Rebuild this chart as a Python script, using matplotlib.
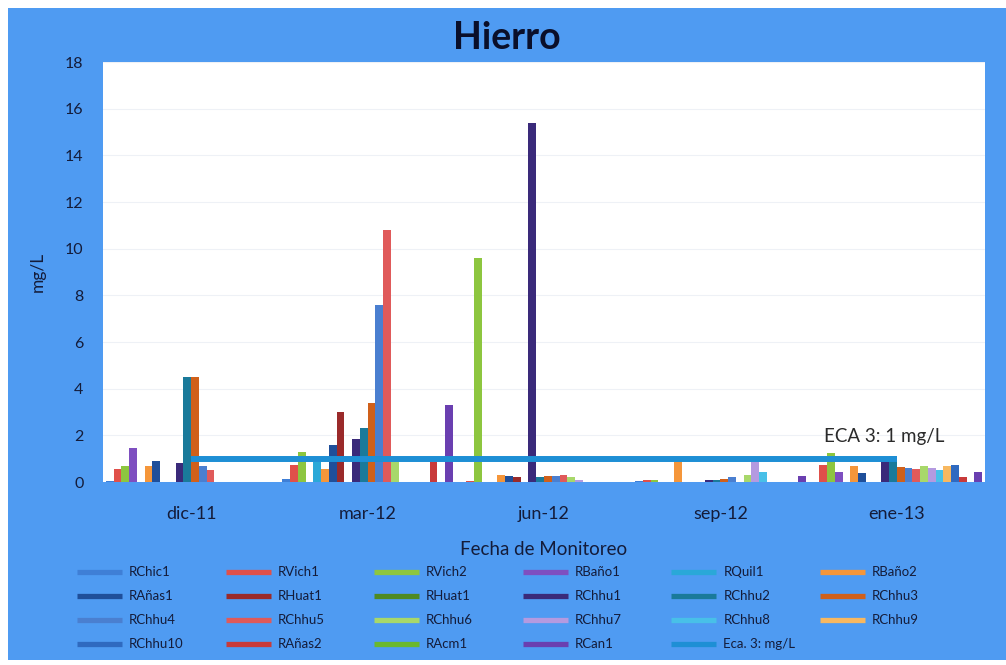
import matplotlib
matplotlib.use('Agg')
import matplotlib.pyplot as plt
from matplotlib.lines import Line2D
from matplotlib.patches import Rectangle
import numpy as np

plt.rcParams['font.family'] = ['Lato', 'DejaVu Sans']

nan = np.nan

campaigns = ['dic-11', 'mar-12', 'jun-12', 'sep-12', 'ene-13']

stations = [
    'RChic1', 'RVich1', 'RVich2', 'RBaño1', 'RQuil1', 'RBaño2',
    'RAñas1', 'RHuat1', 'RHuat1', 'RChhu1', 'RChhu2', 'RChhu3',
    'RChhu4', 'RChhu5', 'RChhu6', 'RChhu7', 'RChhu8', 'RChhu9',
    'RChhu10', 'RAñas2', 'RAcm1', 'RCan1',
]

# Fe (mg/L) per station, one list per monitoring campaign (nan = not sampled)
fe_dic11 = [0.05, 0.55, 0.7, 1.45, nan, 0.7, 0.9, nan, nan, 0.8, 4.5, 4.5,
            0.7, 0.5, nan, nan, nan, nan, nan, nan, nan, nan]
fe_mar12 = [0.15, 0.75, 1.3, nan, 0.85, 0.55, 1.6, 3.0, nan, 1.85, 2.3, 3.4,
            7.6, 10.8, 0.85, nan, nan, nan, nan, 0.85, nan, 3.3]
fe_jun12 = [nan, 0.05, 9.6, nan, nan, 0.3, 0.25, 0.2, nan, 15.4, 0.2, 0.25,
            0.25, 0.3, 0.2, 0.1, nan, nan, nan, nan, nan, nan]
fe_sep12 = [0.05, 0.1, 0.1, nan, nan, 0.95, nan, nan, nan, 0.1, 0.1, 0.15,
            0.2, nan, 0.3, 0.85, 0.45, nan, nan, nan, nan, 0.25]
fe_ene13 = [nan, 0.75, 1.25, 0.45, nan, 0.7, 0.4, nan, nan, 1.05, 1.1, 0.65,
            0.6, 0.55, 0.7, 0.6, 0.5, 0.7, 0.75, 0.2, nan, 0.45]

eca_limit = 1.0  # ECA categoria 3

colors = [
    '#3f7fd6', '#e0504a', '#8dc63f', '#7e4fc0', '#2aa8d8', '#f5963a',
    '#1f4f9a', '#9a2a2a', '#4f8a22', '#3a2a7a', '#1a7a9a', '#d0601a',
    '#4a7fd0', '#e05a5a', '#a8d86a', '#b49ae0', '#48c0e8', '#f8b860',
    '#2f6ac0', '#c83a3a', '#6ab82e', '#6a3fb0',
]
eca_color = '#1e8fd5'
frame_blue = '#4f9bf2'
text_dark = '#141c3a'

W, H = 1006, 665
fig = plt.figure(figsize=(W / 100, H / 100), dpi=100)
fig.patch.set_facecolor('white')

# blue chart frame
fig.add_artist(Rectangle((8 / W, 1 - 660 / H), (W - 8) / W, 652 / H,
                         transform=fig.transFigure, facecolor=frame_blue,
                         edgecolor='none', zorder=0))

ax = fig.add_axes([103 / W, 1 - 482 / H, 882 / W, 420 / H])
ax.set_facecolor('white')

values = np.array([fe_dic11, fe_mar12, fe_jun12, fe_sep12, fe_ene13])
n_st = len(stations)
cluster = 0.967
bw = cluster / n_st
x0 = np.arange(len(campaigns))
for i in range(n_st):
    xs = x0 - cluster / 2 + (i + 0.5) * bw
    ax.bar(xs, values[:, i], width=bw, color=colors[i], edgecolor='none',
           zorder=2)

ax.plot([x0[0], x0[-1]], [eca_limit, eca_limit], color=eca_color, lw=4.3,
        solid_capstyle='butt', zorder=3)
ax.text(3.93, 1.95, 'ECA 3: 1 mg/L', ha='center', va='center', fontsize=13.5,
        color='#2a2a2a')

ax.set_xlim(-0.5, len(campaigns) - 0.5)
ax.set_ylim(0, 18)
ax.set_yticks(np.arange(0, 19, 2))
ax.set_xticks(x0)
ax.set_xticklabels(campaigns)
ax.tick_params(axis='both', length=0, colors=text_dark)
ax.tick_params(axis='y', labelsize=11.5, pad=14)
ax.tick_params(axis='x', labelsize=13, pad=17)
ax.grid(axis='y', color='#eef1f6', lw=0.8, zorder=0)
ax.set_axisbelow(True)
for s in ax.spines.values():
    s.set_visible(False)

ax.set_ylabel('mg/L', fontsize=12.5, color=text_dark, labelpad=14)
ax.set_xlabel('Fecha de Monitoreo', fontsize=13.5, color=text_dark, labelpad=14)
fig.text(507 / W, 1 - 38 / H, 'Hierro', ha='center', va='center',
         fontsize=27, fontweight='bold', color='#0a0f2a')

# legend, six entries per row
entries = list(zip(stations, colors)) + [('Eca. 3: mg/L', eca_color)]
for k, (name, col) in enumerate(entries):
    row, c = divmod(k, 6)
    xl = (77 + c * 148.6) / W
    yl = 1 - (572 + row * 24) / H
    fig.add_artist(Line2D([xl, xl + 45 / W], [yl, yl], color=col, lw=3.8,
                          transform=fig.transFigure, solid_capstyle='butt'))
    fig.text(xl + 52 / W, yl, name, ha='left', va='center', fontsize=9.5,
             color=text_dark)

plt.savefig('out.png', dpi=100, facecolor=fig.get_facecolor())
